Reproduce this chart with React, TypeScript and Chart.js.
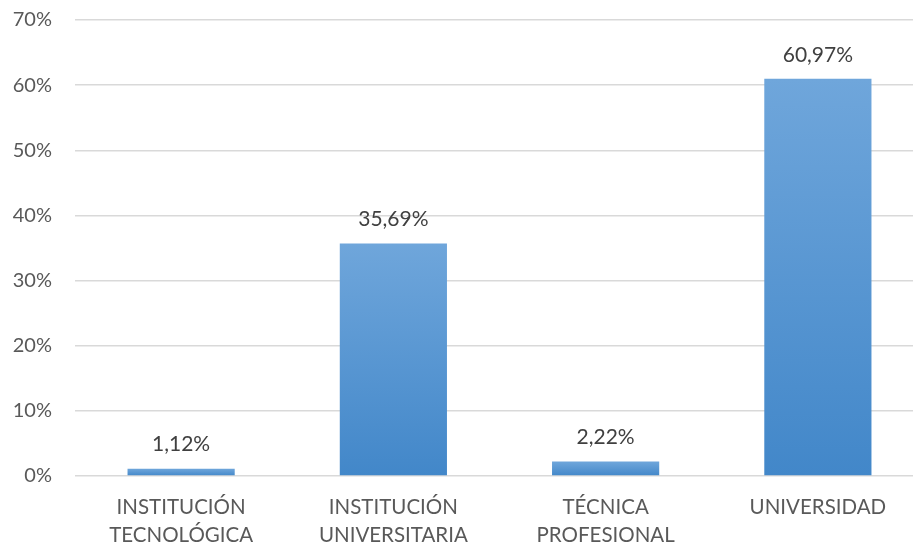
import React, { useEffect, useRef } from "react";
import { Chart, registerables } from "chart.js";

Chart.register(...registerables);

const categories: string[][] = [
  ["INSTITUCIÓN", "TECNOLÓGICA"],
  ["INSTITUCIÓN", "UNIVERSITARIA"],
  ["TÉCNICA", "PROFESIONAL"],
  ["UNIVERSIDAD"],
];
const values: number[] = [1.12, 35.69, 2.22, 60.97];
const valueLabels: string[] = ["1,12%", "35,69%", "2,22%", "60,97%"];
const yMax = 70;
const yStep = 10;

const FONT = "Lato, 'Open Sans', sans-serif";
const TEXT = "#595959";

const labelPlugin = {
  id: "valueLabels",
  afterDatasetsDraw(chart: any) {
    const ctx = chart.ctx;
    const meta = chart.getDatasetMeta(0);
    ctx.save();
    ctx.font = `21px ${FONT}`;
    ctx.fillStyle = "#404040";
    ctx.textAlign = "center";
    ctx.textBaseline = "middle";
    meta.data.forEach((bar: any, i: number) => {
      ctx.fillText(valueLabels[i], bar.x, bar.y - 24);
    });
    ctx.restore();
  },
};

export default function App() {
  const ref = useRef<HTMLCanvasElement>(null);
  useEffect(() => {
    document.body.style.margin = "0";
    const chart = new Chart(ref.current!, {
      type: "bar",
      data: {
        labels: categories,
        datasets: [
          {
            data: values,
            backgroundColor: (c: any) => {
              const ch = c.chart;
              const y = ch.scales?.y;
              if (!ch.chartArea || !y || c.dataIndex === undefined) return "#5b9bd5";
              const top = y.getPixelForValue(values[c.dataIndex]);
              const bottom = y.getPixelForValue(0);
              if (!(bottom > top)) return "#5b9bd5";
              const g = ch.ctx.createLinearGradient(0, top, 0, bottom);
              g.addColorStop(0, "#6fa6db");
              g.addColorStop(1, "#4287c9");
              return g;
            },
            borderWidth: 0,
            categoryPercentage: 0.505,
            barPercentage: 1,
          },
        ],
      },
      options: {
        animation: false,
        responsive: false,
        maintainAspectRatio: false,
        layout: { padding: { top: 20, right: 0, left: 0, bottom: 0 } },
        plugins: { legend: { display: false }, tooltip: { enabled: false } },
        scales: {
          x: {
            grid: { display: false, drawTicks: false },
            border: { display: false },
            ticks: {
              color: TEXT,
              font: { family: FONT, size: 20.5, lineHeight: 1.35 },
              padding: 18,
              maxRotation: 0,
              autoSkip: false,
            },
            afterFit: (s: any) => {
              s.height = 72;
              s.paddingTop = 0;
              s.paddingBottom = 0;
              s.paddingLeft = 0;
              s.paddingRight = 0;
            },
          },
          y: {
            min: 0,
            max: yMax,
            grid: { color: "#d9d9d9", lineWidth: 1.5, drawTicks: false },
            border: { display: false },
            ticks: {
              stepSize: yStep,
              color: TEXT,
              font: { family: FONT, size: 20 },
              padding: 23,
              callback: (v: any) => `${v}%`,
            },
            afterFit: (s: any) => {
              s.width = 75;
              s.paddingTop = 0;
              s.paddingBottom = 0;
              s.paddingLeft = 0;
              s.paddingRight = 0;
            },
          },
        },
      },
      plugins: [labelPlugin],
    });
    return () => chart.destroy();
  }, []);
  return (
    <div style={{ width: 913, height: 548, overflow: "hidden" }}>
      <canvas ref={ref} width={924} height={548} style={{ display: "block" }} />
    </div>
  );
}
